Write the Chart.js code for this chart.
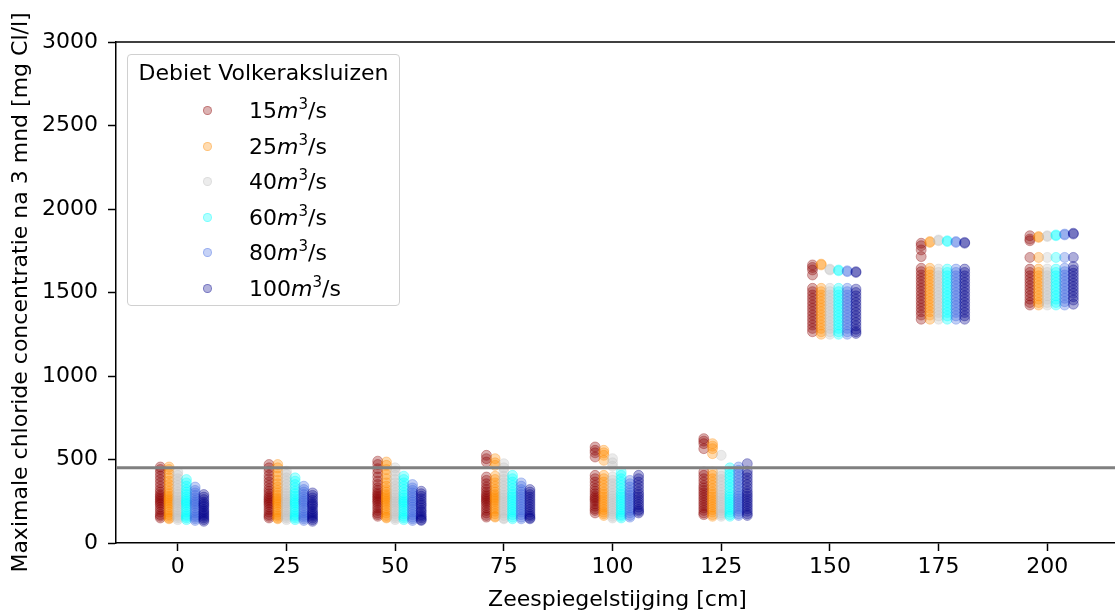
<!DOCTYPE html>
<html>
<head>
<meta charset="utf-8">
<script src="https://cdn.jsdelivr.net/npm/chart.js@4.4.0/dist/chart.umd.min.js"></script>
<style>
html,body{margin:0;padding:0;overflow:hidden;background:#fff;width:1115px;height:615px;}
#wrap{position:relative;width:1125px;height:615px;}
#c{position:absolute;left:0;top:0;}
#legend{position:absolute;left:127px;top:54px;width:273px;height:252px;border:1px solid #d0d0d0;border-radius:4px;background:rgba(255,255,255,0.85);font-family:'DejaVu Sans';font-size:22px;color:#000;box-sizing:border-box;}
#legend .ttl{position:absolute;left:0;width:100%;top:4px;text-align:center;line-height:28px;white-space:nowrap;}
#legend .item{position:absolute;left:0;width:100%;height:30px;}
#legend .mk{position:absolute;left:75px;top:10px;width:9px;height:9px;border-radius:50%;box-sizing:border-box;}
#legend .lb{position:absolute;left:121px;top:0;line-height:30px;white-space:nowrap;}
#legend sup{font-size:15px;vertical-align:9px;line-height:0;}
</style>
</head>
<body>
<div id="wrap">
<canvas id="c" width="1125" height="615"></canvas>
<div id="legend"></div>
</div>
<script>
// ---- data ----
const slr = [0, 25, 50, 75, 100, 125, 150, 175, 200];
const flows = [15, 25, 40, 60, 80, 100];
const xTicks = [0, 25, 50, 75, 100, 125, 150, 175, 200];
const yTicks = [0, 500, 1000, 1500, 2000, 2500, 3000];
const threshold = 450;
const legendTitle = 'Debiet Volkeraksluizen';
const xTitle = 'Zeespiegelstijging [cm]';
const yTitle = 'Maximale chloride concentratie na 3 mnd [mg Cl/l]';

const q15 = [
  [455, 440, 420, 400, 380, 360, 340, 320, 305, 290, 280, 270, 260, 250, 240, 230, 215, 200, 185, 170, 160, 150],
  [470, 450, 430, 405, 385, 365, 345, 325, 310, 295, 280, 270, 260, 250, 240, 230, 215, 200, 185, 170, 160, 150],
  [490, 470, 445, 420, 395, 370, 350, 330, 315, 300, 290, 280, 270, 260, 250, 240, 225, 210, 195, 180, 170, 160],
  [525, 505, 485, 395, 375, 355, 335, 320, 305, 290, 280, 270, 260, 250, 240, 225, 210, 195, 180, 165, 155],
  [575, 555, 540, 515, 405, 385, 365, 345, 325, 310, 295, 280, 270, 260, 250, 235, 220, 205, 195, 180],
  [625, 610, 595, 565, 425, 405, 385, 365, 345, 330, 315, 300, 285, 270, 255, 240, 225, 210, 195, 180, 170],
  [1665, 1650, 1635, 1605, 1525, 1505, 1485, 1465, 1445, 1425, 1405, 1385, 1365, 1345, 1325, 1305, 1285, 1265],
  [1795, 1780, 1755, 1715, 1645, 1625, 1605, 1585, 1565, 1545, 1525, 1505, 1485, 1465, 1445, 1425, 1405, 1385, 1365, 1340],
  [1840, 1820, 1810, 1710, 1640, 1620, 1600, 1580, 1560, 1540, 1520, 1500, 1480, 1460, 1440, 1425]
];
const q25 = [
  [455, 440, 415, 390, 370, 350, 330, 310, 295, 280, 270, 260, 250, 240, 230, 215, 200, 185, 170, 160, 150, 145],
  [470, 450, 425, 400, 375, 355, 335, 315, 300, 285, 270, 260, 250, 240, 230, 215, 200, 185, 170, 160, 150, 145],
  [485, 465, 440, 410, 385, 360, 340, 320, 305, 290, 280, 270, 260, 250, 240, 225, 210, 195, 180, 165, 155, 150],
  [505, 480, 465, 400, 380, 360, 340, 320, 305, 290, 280, 270, 260, 250, 235, 220, 205, 190, 175, 160, 155],
  [555, 540, 525, 495, 405, 385, 365, 345, 325, 305, 290, 275, 260, 245, 230, 215, 200, 185, 175, 165],
  [595, 580, 565, 535, 425, 405, 385, 365, 345, 325, 305, 290, 275, 260, 245, 230, 215, 200, 185, 170, 160],
  [1670, 1665, 1525, 1505, 1485, 1465, 1445, 1425, 1405, 1385, 1365, 1345, 1325, 1305, 1285, 1265, 1250],
  [1805, 1800, 1645, 1625, 1605, 1585, 1565, 1545, 1525, 1505, 1485, 1465, 1445, 1425, 1405, 1385, 1365, 1340],
  [1835, 1830, 1710, 1640, 1620, 1600, 1580, 1560, 1540, 1520, 1500, 1480, 1460, 1440, 1425]
];
const q40 = [
  [425, 405, 385, 365, 345, 325, 305, 290, 275, 260, 250, 240, 230, 215, 200, 185, 170, 160, 150, 140],
  [430, 410, 390, 370, 350, 330, 310, 295, 280, 265, 250, 240, 230, 215, 200, 185, 170, 160, 150, 140],
  [450, 430, 405, 380, 360, 340, 320, 300, 285, 270, 255, 245, 235, 220, 205, 190, 175, 160, 150, 140],
  [475, 450, 425, 400, 380, 360, 340, 320, 300, 285, 270, 255, 240, 225, 210, 195, 180, 165, 150, 145],
  [505, 480, 460, 395, 375, 355, 335, 315, 295, 280, 265, 250, 235, 220, 205, 190, 175, 160, 150],
  [525, 420, 400, 380, 360, 340, 320, 300, 285, 270, 255, 240, 225, 210, 195, 180, 170, 160],
  [1640, 1635, 1525, 1505, 1485, 1465, 1445, 1425, 1405, 1385, 1365, 1345, 1325, 1305, 1285, 1265, 1250],
  [1815, 1810, 1640, 1620, 1600, 1580, 1560, 1540, 1520, 1500, 1480, 1460, 1440, 1420, 1400, 1380, 1360, 1340],
  [1840, 1835, 1710, 1640, 1620, 1600, 1580, 1560, 1540, 1520, 1500, 1480, 1460, 1440, 1425]
];
const q60 = [
  [380, 360, 340, 320, 305, 290, 275, 260, 250, 240, 230, 215, 200, 185, 170, 160, 150, 140],
  [390, 370, 350, 330, 310, 295, 280, 265, 250, 240, 230, 215, 200, 185, 170, 160, 150, 140],
  [400, 380, 360, 340, 320, 300, 285, 270, 255, 245, 235, 220, 205, 190, 175, 160, 150, 140],
  [405, 385, 365, 345, 325, 305, 290, 275, 260, 245, 230, 215, 200, 185, 170, 155, 145],
  [425, 405, 385, 365, 345, 325, 305, 290, 275, 260, 245, 230, 215, 200, 185, 170, 160, 150],
  [450, 430, 410, 390, 370, 350, 330, 310, 290, 275, 260, 245, 230, 215, 200, 185, 170, 160],
  [1635, 1630, 1525, 1505, 1485, 1465, 1445, 1425, 1405, 1385, 1365, 1345, 1325, 1305, 1285, 1265, 1250],
  [1810, 1805, 1640, 1620, 1600, 1580, 1560, 1540, 1520, 1500, 1480, 1460, 1440, 1420, 1400, 1380, 1360, 1340],
  [1845, 1840, 1710, 1640, 1620, 1600, 1580, 1560, 1540, 1520, 1500, 1480, 1460, 1440, 1425]
];
const q80 = [
  [335, 315, 300, 285, 270, 255, 245, 235, 225, 210, 195, 180, 165, 155, 145, 135],
  [340, 320, 305, 290, 275, 260, 250, 240, 225, 210, 195, 180, 165, 155, 145, 135],
  [350, 330, 315, 300, 285, 270, 255, 245, 230, 215, 200, 185, 170, 155, 145, 135],
  [360, 340, 320, 305, 290, 275, 260, 245, 230, 215, 200, 185, 170, 155, 145],
  [375, 355, 335, 315, 300, 285, 270, 255, 240, 225, 210, 195, 180, 165, 155],
  [455, 435, 415, 395, 375, 355, 335, 315, 295, 280, 265, 250, 235, 220, 205, 190, 175, 165],
  [1630, 1625, 1525, 1505, 1485, 1465, 1445, 1425, 1405, 1385, 1365, 1345, 1325, 1305, 1285, 1265, 1250],
  [1805, 1800, 1640, 1620, 1600, 1580, 1560, 1540, 1520, 1500, 1480, 1460, 1440, 1420, 1400, 1380, 1360, 1340],
  [1850, 1845, 1710, 1645, 1625, 1605, 1585, 1565, 1545, 1525, 1505, 1485, 1465, 1445, 1425]
];
const q100 = [
  [290, 275, 260, 245, 235, 225, 215, 200, 190, 180, 170, 160, 150, 140, 130],
  [300, 285, 270, 255, 240, 230, 220, 205, 190, 180, 170, 160, 150, 140, 130],
  [310, 295, 280, 265, 250, 235, 225, 210, 195, 185, 170, 160, 150, 140, 135],
  [320, 305, 290, 275, 260, 245, 230, 215, 200, 185, 170, 160, 150, 145],
  [405, 385, 365, 345, 325, 305, 290, 275, 260, 245, 230, 215, 200, 190, 180],
  [475, 430, 410, 390, 370, 350, 330, 310, 295, 280, 265, 250, 235, 220, 205, 190, 175, 165],
  [1625, 1620, 1520, 1500, 1480, 1460, 1440, 1420, 1400, 1380, 1360, 1340, 1320, 1300, 1280, 1265, 1255],
  [1800, 1795, 1640, 1620, 1600, 1580, 1560, 1540, 1520, 1500, 1480, 1460, 1440, 1420, 1400, 1380, 1360, 1340],
  [1855, 1850, 1710, 1655, 1635, 1615, 1595, 1575, 1555, 1535, 1515, 1495, 1475, 1455, 1430]
];
const series = [q15, q25, q40, q60, q80, q100];
const colors = ['139,0,0', '255,140,0', '192,192,192', '0,255,255', '65,105,225', '0,0,139'];

// ---- chart ----
const FONT = {family: 'DejaVu Sans', size: 22};
const X_MIN = -14.2, X_MAX = 216.5;

const datasets = flows.map((f, k) => ({
  type: 'scatter',
  label: f + 'm3/s',
  data: slr.flatMap((s, g) => series[k][g].map(v => ({x: s + (k * 2 - 4), y: v}))),
  backgroundColor: 'rgba(' + colors[k] + ',0.32)',
  borderColor: 'rgba(' + colors[k] + ',0.32)',
  borderWidth: 1,
  pointRadius: 5,
  pointHoverRadius: 5,
  order: 6 - k
}));
datasets.push({
  type: 'line',
  label: 'grens',
  data: [{x: X_MIN, y: threshold}, {x: X_MAX, y: threshold}],
  borderColor: '#808080',
  borderWidth: 3,
  pointRadius: 0,
  fill: false,
  order: 0
});

const topSpine = {
  id: 'topSpine',
  afterDatasetsDraw(chart) {
    const {ctx, chartArea: a} = chart;
    ctx.save();
    ctx.strokeStyle = '#000';
    ctx.lineWidth = 1.5;
    ctx.beginPath();
    ctx.moveTo(a.left, a.top);
    ctx.lineTo(a.right, a.top);
    ctx.stroke();
    ctx.restore();
  }
};

new Chart(document.getElementById('c'), {
  type: 'scatter',
  data: {datasets},
  plugins: [topSpine],
  options: {
    responsive: false,
    animation: false,
    devicePixelRatio: 1,
    layout: {padding: {left: 0, right: 1, top: 42, bottom: 0}},
    plugins: {legend: {display: false}, tooltip: {enabled: false}},
    scales: {
      x: {
        type: 'linear', min: X_MIN, max: X_MAX,
        afterBuildTicks: s => { s.ticks = xTicks.map(v => ({value: v})); },
        afterFit: s => { s.height = 72; },
        ticks: {font: FONT, color: '#000', padding: 3, maxRotation: 0, autoSkip: false, callback: v => String(v)},
        grid: {drawOnChartArea: false, tickLength: 8, tickColor: '#000', tickWidth: 1.5},
        border: {color: '#000', width: 1.5},
        title: {display: true, text: xTitle, font: FONT, color: '#000', padding: {top: 0, bottom: 2}}
      },
      y: {
        type: 'linear', min: 0, max: 3000,
        afterBuildTicks: s => { s.ticks = yTicks.map(v => ({value: v})); },
        afterFit: s => { s.width = 116; },
        ticks: {font: FONT, color: '#000', padding: 10, callback: v => String(v)},
        grid: {drawOnChartArea: false, tickLength: 8, tickColor: '#000', tickWidth: 1.5},
        border: {color: '#000', width: 1.5},
        title: {display: true, text: yTitle, font: FONT, color: '#000', padding: {top: 8, bottom: 0}}
      }
    }
  }
});

// ---- legend (HTML, built from the same arrays) ----
const lg = document.getElementById('legend');
const t = document.createElement('div');
t.className = 'ttl';
t.textContent = legendTitle;
lg.appendChild(t);
flows.forEach((f, k) => {
  const it = document.createElement('div');
  it.className = 'item';
  it.style.top = (41 + k * 35.6) + 'px';
  const mk = document.createElement('div');
  mk.className = 'mk';
  mk.style.background = 'rgba(' + colors[k] + ',0.3)';
  mk.style.border = '1px solid rgba(' + colors[k] + ',0.35)';
  const lb = document.createElement('div');
  lb.className = 'lb';
  lb.innerHTML = f + '<i>m</i><sup>3</sup>/s';
  it.appendChild(mk);
  it.appendChild(lb);
  lg.appendChild(it);
});
</script>
</body>
</html>
